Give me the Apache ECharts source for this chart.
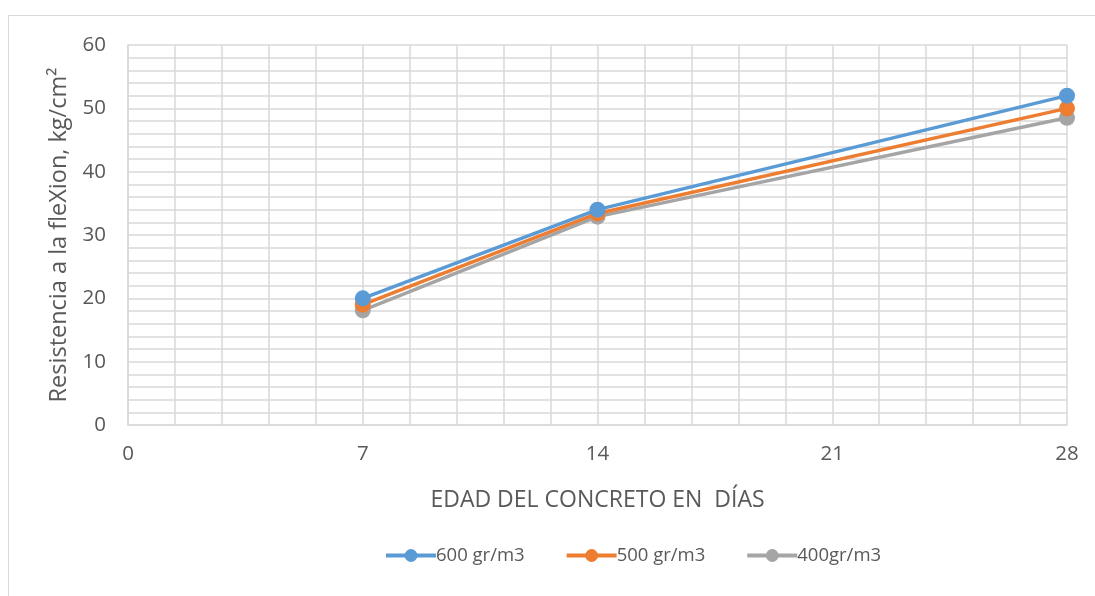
<!DOCTYPE html>
<html>
<head>
<meta charset="utf-8">
<script src="https://cdn.jsdelivr.net/npm/echarts@6/dist/echarts.min.js"></script>
<style>
  html, body { margin: 0; padding: 0; background: #fff; }
  #frame { position: absolute; left: 8px; top: 15px; width: 1200px; height: 700px;
           border-top: 1.5px solid #d9d9d9; border-left: 1.5px solid #d9d9d9; }
  #chart { position: absolute; left: 0; top: 0; width: 1095px; height: 596px; }
</style>
</head>
<body>
<div id="frame"></div>
<div id="chart"></div>
<script>
// Age of the concrete (days) and flexural strength (kg/cm²) per fibre dosage
const days = [7, 14, 28];
const s600 = [20.0, 34.0, 52.0];
const s500 = [19.0, 33.4, 50.0];
const s400 = [18.1, 32.9, 48.5];
const seriesNames = ['600 gr/m3', '500 gr/m3', '400gr/m3'];
const colors = ['#5B9BD5', '#ED7D31', '#A5A5A5'];

const font = 'Open Sans';
const textColor = '#595959';
const gridColor = '#d9d9d9';

function pairs(vals) { return days.map((d, i) => [d, vals[i]]); }

const chart = echarts.init(document.getElementById('chart'), null, { renderer: 'canvas' });
chart.setOption({
  animation: false,
  color: colors,
  grid: { left: 128, right: 28, top: 45, bottom: 171, containLabel: false },
  xAxis: {
    type: 'value', min: 0, max: 28, interval: 7,
    name: 'EDAD DEL CONCRETO EN  DÍAS', nameLocation: 'middle', nameGap: 64,
    nameTextStyle: { fontFamily: font, fontSize: 23, color: textColor },
    axisLine: { show: true, lineStyle: { color: gridColor, width: 1.5 } },
    axisTick: { show: false },
    axisLabel: { fontFamily: font, fontSize: 20.5, color: textColor, margin: 19 },
    splitLine: { show: true, lineStyle: { color: gridColor, width: 1.5 } },
    minorTick: { show: false, splitNumber: 5 },
    minorSplitLine: { show: true, lineStyle: { color: gridColor, width: 1.5 } }
  },
  yAxis: {
    type: 'value', min: 0, max: 60, interval: 10,
    name: 'Resistencia a la fleXion, kg/cm²', nameLocation: 'middle', nameGap: 56,
    nameTextStyle: { fontFamily: font, fontSize: 23.5, color: textColor },
    axisLine: { show: true, lineStyle: { color: gridColor, width: 1.5 } },
    axisTick: { show: false },
    axisLabel: { fontFamily: font, fontSize: 20.5, color: textColor, margin: 22 },
    splitLine: { show: true, lineStyle: { color: gridColor, width: 1.5 } },
    minorTick: { show: false, splitNumber: 5 },
    minorSplitLine: { show: true, lineStyle: { color: gridColor, width: 1.5 } }
  },
  legend: {
    left: 379, top: 541,
    itemWidth: 50, itemHeight: 16, itemGap: 40,
    lineStyle: { width: 4 },
    textStyle: { fontFamily: font, fontSize: 18.5, color: textColor, padding: [0, 0, 0, -5] },
    data: seriesNames
  },
  series: [s600, s500, s400].map((vals, i) => ({
    name: seriesNames[i],
    type: 'line',
    data: pairs(vals),
    symbol: 'circle', symbolSize: 16,
    lineStyle: { width: 3.5, color: colors[i] },
    itemStyle: { color: colors[i] },
    z: 10 - i
  }))
});
</script>
</body>
</html>
